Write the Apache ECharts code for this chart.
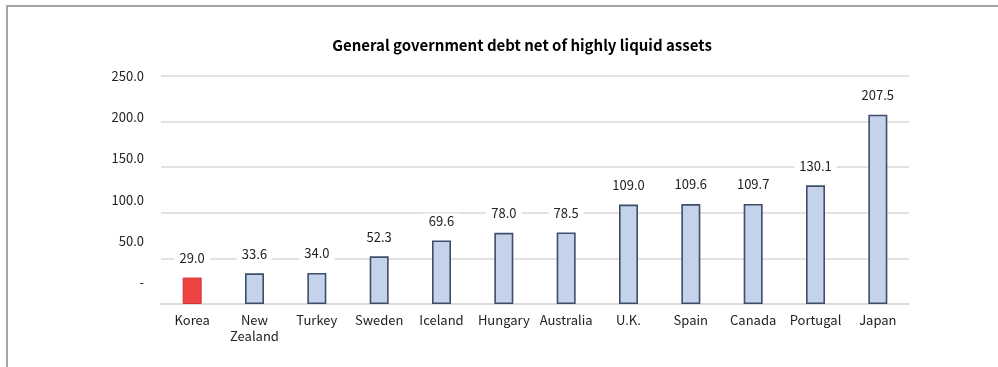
<!DOCTYPE html>
<html><head><meta charset="utf-8">
<script src="https://cdn.jsdelivr.net/npm/echarts@6/dist/echarts.min.js"></script>
<style>
html,body{margin:0;padding:0;background:#fff;}
#frame{position:absolute;left:6px;top:5px;width:1100px;height:500px;border-left:2px solid #a6a6a6;border-top:2px solid #a6a6a6;}
#c{position:absolute;left:0;top:0;width:998px;height:367px;}
</style></head>
<body>
<div id="frame"></div>
<div id="c"></div>
<script>
const categories = ['Korea', 'New\nZealand', 'Turkey', 'Sweden', 'Iceland', 'Hungary', 'Australia', 'U.K.', 'Spain', 'Canada', 'Portugal', 'Japan'];
const values = [29.0, 33.6, 34.0, 52.3, 69.6, 78.0, 78.5, 109.0, 109.6, 109.7, 130.1, 207.5];
const tickValues = [0, 50, 100, 150, 200, 250];
const highlight = 'Korea';
const titleText = 'General government debt net of highly liquid assets';

const FONT = '"Noto Sans CJK KR", "Noto Sans", sans-serif';
const chart = echarts.init(document.getElementById('c'));
chart.setOption({
  animation: false,
  textStyle: { fontFamily: FONT },
  title: {
    text: titleText, left: 517, top: 33, textAlign: 'center',
    textStyle: { fontFamily: FONT, fontSize: 15, fontWeight: 'bold', color: '#000' }
  },
  grid: { left: 161, right: 89, top: 76, bottom: 63, containLabel: false },
  xAxis: {
    type: 'category', data: categories,
    axisLine: { lineStyle: { color: '#d9d9d9', width: 1.5 } },
    axisTick: { show: false },
    axisLabel: { color: '#222', fontSize: 13, margin: 8, lineHeight: 16, interval: 0 }
  },
  yAxis: [{
    type: 'value', min: 0, max: 250, interval: 50,
    axisLine: { show: false }, axisTick: { show: false },
    axisLabel: { show: false },
    splitLine: { lineStyle: { color: '#d9d9d9', width: 1.5 } }
  }, {
    type: 'value', position: 'left', min: -26.7, max: 250,
    axisLine: { show: false }, axisTick: { show: false },
    splitLine: { show: false },
    axisLabel: {
      customValues: tickValues, color: '#222', fontSize: 13, margin: 17,
      formatter: v => v === 0 ? '-' : v.toFixed(1)
    }
  }],
  series: [{
    type: 'bar', yAxisIndex: 0, barWidth: 19,
    data: values.map((v, i) => ({
      value: v,
      itemStyle: categories[i] === highlight
        ? { color: '#ef4243', borderColor: '#c9383a', borderWidth: 1 }
        : { color: '#c5d3ea', borderColor: '#3e4d6b', borderWidth: 1.6 }
    })),
    label: {
      show: true, position: 'top', distance: 12, color: '#222', fontSize: 13,
      formatter: p => p.value.toFixed(1),
      backgroundColor: '#fff', padding: [1, 5]
    }
  }]
});
</script>
</body></html>
